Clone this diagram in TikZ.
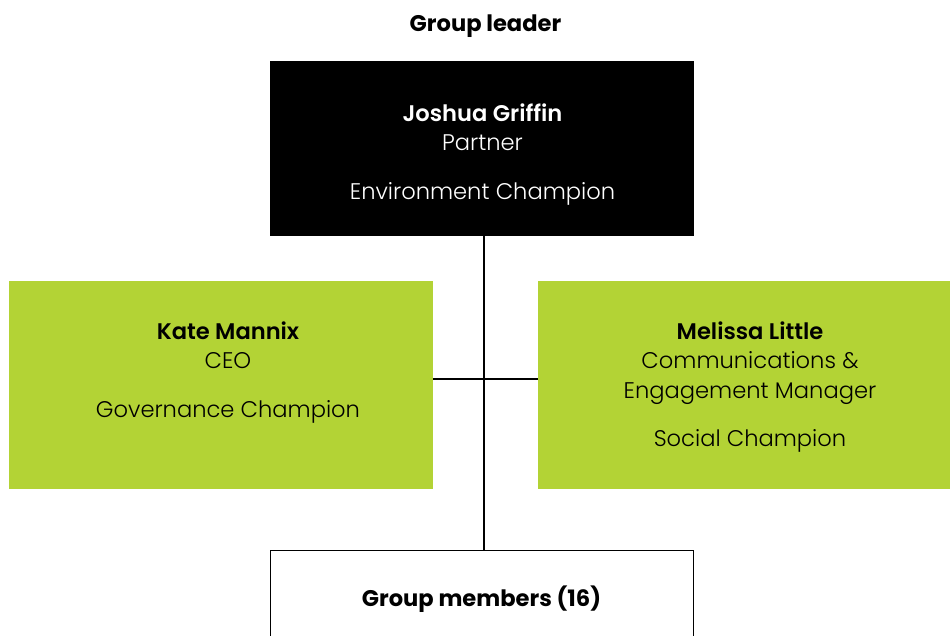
\documentclass[tikz,border=0pt]{standalone}
\usepackage{fontspec}
\setmainfont{Poppins}[UprightFont={* Light},BoldFont={* SemiBold}]
\newfontfamily\heavyfont{Poppins}[UprightFont={* Bold}]
\definecolor{champgreen}{HTML}{B3D335}
\begin{document}
\begin{tikzpicture}[x=1pt,y=-1pt,
  box/.style={rectangle,inner sep=0pt,outer sep=0pt},
  txt/.style={anchor=base,inner sep=0pt,font=\fontsize{22.6}{28}\selectfont},
  nametxt/.style={txt,font=\fontsize{22.6}{28}\bfseries},
  conn/.style={line width=1.5pt,black}]
\useasboundingbox (0,0) rectangle (950,636);
% boxes
\node[box,fill=black,minimum width=424pt,minimum height=175pt] (lead) at (482,148.5) {};
\node[box,fill=champgreen,minimum width=424pt,minimum height=208pt] (kate) at (221,385) {};
\node[box,fill=champgreen,minimum width=440pt,minimum height=208pt] (mel) at (758,385) {};
\node[box,draw=black,line width=1.6pt,fill=white,minimum width=423pt,minimum height=150pt] (members) at (482,625.5) {};
% connectors
\draw[conn] ([xshift=2pt]lead.south) -- ([xshift=2pt]members.north);
\draw[conn] ([yshift=6pt]kate.east) -- ([yshift=6pt]mel.west);
% texts
\node[txt,font=\fontsize{22.6}{28}\heavyfont] (title) at (485.5,32) {Group leader};
\node[nametxt,text=white] (jgname) at (482.5,122) {Joshua Griffin};
\node[txt,text=white] (jgrole) at (482.5,151) {Partner};
\node[txt,text=white] (jgchamp) at (482.5,200) {Environment Champion};
\node[nametxt] (kmname) at (228,339) {Kate Mannix};
\node[txt] (kmrole) at (228,368) {CEO};
\node[txt] (kmchamp) at (228,417) {Governance Champion};
\node[nametxt] (mlname) at (750,339) {Melissa Little};
\node[txt] (mlrole1) at (750,368) {Communications \&};
\node[txt] (mlrole2) at (750,398) {Engagement Manager};
\node[txt] (mlchamp) at (750,446) {Social Champion};
\node[txt,font=\fontsize{22.6}{28}\heavyfont] (memtxt) at (481.5,606) {Group members (16)};
\end{tikzpicture}
\end{document}
